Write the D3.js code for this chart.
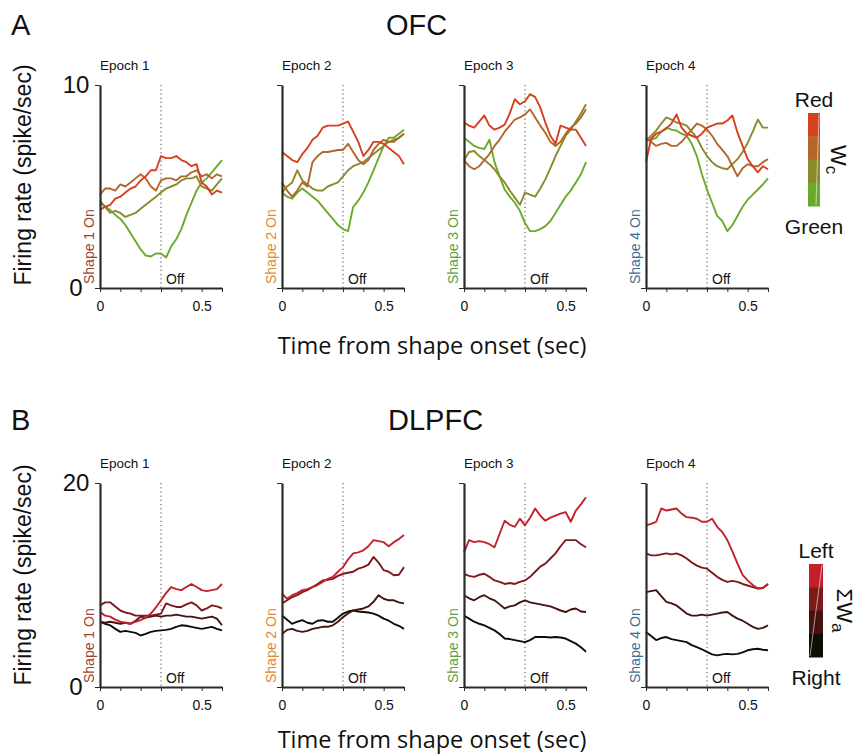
<!DOCTYPE html>
<html lang="en">
<head>
<meta charset="UTF-8">
<title>OFC / DLPFC firing rates</title>
<style>
  body { margin: 0; background: #fff; }
  text { font-family: "Liberation Sans", Arial, sans-serif; fill: #111; }
  .trace { fill: none; stroke-width: 1.9px; stroke-linejoin: round; }
  .axis path, .axis line { stroke: #2b2b2b; }
  .axis path { stroke-width: 2.2px; }
  .axis line { stroke-width: 1px; }
  .axis text { font-size: 14px; fill: #111; font-family: "Liberation Sans", Arial, sans-serif; }
  .off-line { stroke: #444; stroke-width: 1px; stroke-dasharray: 1.2 3; }
  .big-title { font-family: "Open Sans", sans-serif; font-size: 23.5px; }
</style>
</head>
<body>
<div id="chart"></div>
<script src="https://d3js.org/d3.v7.min.js"></script>
<script>
// time from shape onset (sec), shared by every trace
const TIME = [0, 0.025, 0.05, 0.075, 0.1, 0.125, 0.15, 0.175, 0.2, 0.225, 0.25, 0.275, 0.3,
              0.325, 0.35, 0.375, 0.4, 0.425, 0.45, 0.475, 0.5, 0.525, 0.55, 0.575, 0.6];
const X_TICKS = [0, 0.1, 0.2, 0.3, 0.4, 0.5, 0.6];
const OFF_TIME = 0.3;
const EPOCHS = ["Epoch 1", "Epoch 2", "Epoch 3", "Epoch 4"];
const SHAPE_LABELS = ["Shape 1 On", "Shape 2 On", "Shape 3 On", "Shape 4 On"];
const SHAPE_COLORS = ["#a0422e", "#e08a2f", "#5fa03a", "#3d6d94"];

const OFC_MAX = 10;
const DLPFC_MAX = 20;
// Wc: red -> green
const OFC_COLORS = ["#d6401e", "#b4662a", "#8a892c", "#6aaa2a"];
// sum Wa: left -> right
const DLPFC_COLORS = ["#c4202a", "#7c1a1a", "#461210", "#0e0e06"];
const OFC_KEY = ["Red", "Green"];
const DLPFC_KEY = ["Left", "Right"];

// OFC, rows = red, brown, olive, green
const ofcEpoch1 = [
  [3.85, 4.0, 4.1, 4.4, 4.5, 4.7, 4.9, 5.0, 5.3, 5.5, 5.8, 5.8, 6.5, 6.4, 6.4, 6.5, 6.3, 6.2, 6.0, 6.1, 5.2, 5.0, 4.6, 4.8, 4.7],
  [4.6, 4.9, 4.9, 4.8, 5.1, 5.0, 5.2, 5.4, 5.6, 5.4, 5.0, 4.8, 5.3, 5.4, 5.4, 5.3, 5.5, 5.5, 5.7, 5.8, 5.5, 5.6, 5.4, 5.6, 5.5],
  [4.3, 4.0, 3.7, 3.8, 3.7, 3.5, 3.6, 3.7, 3.9, 4.1, 4.3, 4.5, 4.7, 4.9, 5.0, 5.1, 5.3, 5.4, 5.4, 5.5, 5.0, 4.9, 4.8, 5.1, 5.4],
  [4.2, 4.0, 3.85, 3.6, 3.4, 3.1, 2.7, 2.3, 1.9, 1.6, 1.55, 1.7, 1.7, 1.5, 2.05, 2.4, 2.9, 3.6, 4.2, 4.8, 5.2, 5.4, 5.7, 6.0, 6.3]
];
const ofcEpoch2 = [
  [6.7, 6.5, 6.3, 6.2, 6.6, 6.9, 7.3, 7.5, 7.9, 8.0, 8.0, 8.0, 8.1, 8.2, 7.7, 7.2, 6.5, 6.8, 7.2, 7.2, 7.1, 6.9, 6.7, 6.5, 6.1],
  [5.2, 4.8, 4.5, 4.8, 5.2, 5.0, 6.2, 6.5, 6.7, 6.7, 6.75, 6.8, 6.8, 7.1, 6.7, 6.3, 6.1, 6.3, 6.8, 7.1, 7.3, 7.2, 7.2, 7.4, 7.6],
  [4.7, 5.0, 5.2, 5.8, 5.3, 5.1, 4.9, 4.8, 4.8, 5.0, 5.1, 5.2, 5.5, 5.8, 6.0, 6.1, 6.2, 6.4, 6.6, 6.8, 7.0, 7.2, 7.3, 7.4, 7.6],
  [4.7, 4.5, 4.4, 4.7, 4.9, 4.7, 4.5, 4.3, 4.0, 3.7, 3.4, 3.1, 2.9, 2.8, 4.0, 4.3, 4.7, 5.2, 5.8, 6.4, 7.0, 7.4, 7.4, 7.6, 7.8]
];
const ofcEpoch3 = [
  [8.15, 8.0, 7.9, 8.2, 8.5, 8.0, 7.8, 7.9, 8.05, 8.6, 9.3, 9.05, 9.2, 9.55, 9.4, 8.9, 8.15, 7.5, 7.1, 8.0, 7.9, 7.8, 7.8, 7.4, 7.0],
  [6.3, 6.0, 5.85, 6.0, 6.3, 6.6, 7.0, 7.3, 7.7, 8.0, 8.3, 8.4, 8.55, 8.8, 8.4, 8.0, 7.65, 7.2, 7.0, 7.2, 7.6, 7.9, 8.1, 8.4, 8.8],
  [6.3, 6.7, 6.75, 6.5, 6.3, 6.1, 5.85, 5.5, 5.2, 4.8, 4.45, 4.1, 4.7, 4.6, 4.5, 4.9, 5.35, 5.9, 6.5, 7.0, 7.5, 7.8, 8.2, 8.6, 9.05],
  [7.4, 7.2, 7.0, 6.9, 6.85, 7.3, 6.2, 5.5, 4.85, 4.5, 4.2, 3.8, 3.2, 2.8, 2.8, 2.9, 3.05, 3.3, 3.7, 4.1, 4.5, 4.8, 5.2, 5.6, 6.2]
];
const ofcEpoch4 = [
  [6.2, 7.35, 7.6, 7.7, 7.85, 8.1, 8.55, 7.9, 7.6, 7.5, 7.4, 7.6, 7.9, 8.0, 8.1, 8.1, 8.25, 8.5, 7.65, 7.0, 6.35, 6.0, 5.7, 6.0, 5.85],
  [7.4, 7.2, 7.0, 7.1, 7.15, 7.0, 7.0, 7.2, 7.5, 7.8, 8.1, 8.0, 7.8, 7.5, 7.1, 6.8, 6.5, 6.0, 5.5, 5.9, 6.1, 6.0, 6.0, 6.2, 6.35],
  [7.25, 7.5, 7.75, 8.1, 8.4, 8.3, 8.15, 8.1, 8.0, 7.7, 7.4, 6.9, 6.5, 6.2, 6.0, 5.9, 5.85, 6.1, 6.35, 6.7, 7.15, 7.7, 8.3, 7.9, 7.9],
  [7.25, 7.3, 7.4, 7.7, 7.9, 7.8, 7.75, 7.6, 7.5, 7.1, 6.5, 5.6, 4.85, 4.2, 3.55, 3.3, 2.8, 3.1, 3.55, 4.0, 4.35, 4.6, 4.85, 5.1, 5.4]
];

// DLPFC, rows = left ... right
const dlpfcEpoch1 = [
  [7.35, 7.0, 6.9, 6.6, 6.4, 6.3, 6.2, 6.4, 6.55, 6.8, 7.2, 7.8, 8.5, 9.2, 9.8, 9.6, 9.5, 9.8, 10.1, 9.8, 9.5, 9.4, 9.5, 9.6, 10.1],
  [8.0, 8.3, 8.3, 7.9, 7.5, 7.3, 7.2, 7.0, 7.0, 7.0, 7.0, 7.1, 7.2, 8.2, 8.0, 7.85, 7.85, 8.1, 8.3, 8.0, 7.5, 7.7, 8.0, 7.9, 7.7],
  [6.4, 6.3, 6.4, 6.3, 6.2, 6.3, 6.2, 6.5, 6.9, 6.8, 6.9, 7.0, 6.9, 7.0, 7.0, 7.1, 7.0, 6.9, 6.9, 6.8, 6.7, 6.8, 6.9, 6.7, 6.05],
  [6.4, 6.2, 6.05, 5.7, 5.4, 5.5, 5.4, 5.3, 5.05, 5.2, 5.4, 5.5, 5.55, 5.6, 5.7, 5.9, 6.05, 6.0, 5.9, 5.8, 5.7, 5.8, 5.9, 5.7, 5.55]
];
const dlpfcEpoch2 = [
  [9.15, 8.65, 9.0, 9.2, 9.5, 9.6, 9.8, 10.0, 10.3, 10.6, 10.8, 11.3, 11.75, 12.5, 13.1, 13.2, 13.4, 13.8, 14.4, 14.3, 14.2, 13.8, 14.2, 14.5, 14.9],
  [8.2, 8.5, 8.8, 9.0, 9.3, 9.5, 9.8, 10.1, 10.45, 10.5, 10.6, 10.9, 11.1, 11.2, 11.3, 11.6, 11.75, 12.0, 12.75, 12.2, 11.45, 11.3, 10.95, 11.0, 11.75],
  [5.2, 5.6, 5.7, 5.5, 5.4, 5.5, 5.7, 5.8, 5.9, 5.9, 6.05, 6.4, 6.85, 7.2, 7.5, 7.6, 7.7, 7.9, 8.35, 9.0, 8.65, 8.5, 8.5, 8.3, 8.2],
  [7.0, 6.6, 6.2, 6.4, 6.55, 6.3, 6.2, 6.5, 6.55, 6.4, 6.4, 6.8, 7.2, 7.4, 7.5, 7.4, 7.35, 7.3, 7.2, 7.0, 6.7, 6.5, 6.2, 6.0, 5.7]
];
const dlpfcEpoch3 = [
  [13.2, 14.4, 14.2, 14.3, 14.2, 14.0, 13.7, 15.0, 16.3, 15.9, 15.7, 16.5, 15.85, 16.6, 17.5, 16.8, 16.3, 16.6, 16.8, 17.0, 17.15, 16.2, 17.3, 17.9, 18.6],
  [11.1, 10.9, 10.8, 11.0, 11.1, 10.8, 10.45, 10.3, 10.1, 10.2, 10.1, 10.3, 10.45, 10.8, 11.3, 11.8, 12.1, 12.6, 13.1, 13.8, 14.4, 14.4, 14.4, 14.0, 13.7],
  [9.0, 8.7, 8.5, 8.8, 9.0, 8.7, 8.5, 8.1, 7.7, 7.9, 8.0, 8.3, 8.5, 8.3, 8.2, 8.1, 8.0, 7.9, 7.7, 7.5, 7.35, 7.6, 7.7, 7.4, 7.35],
  [7.0, 6.7, 6.4, 6.2, 6.05, 5.8, 5.55, 5.2, 4.75, 4.7, 4.6, 4.5, 4.4, 4.6, 4.9, 4.9, 4.9, 4.85, 4.9, 4.85, 4.75, 4.5, 4.25, 3.9, 3.45]
];
const dlpfcEpoch4 = [
  [15.85, 16.0, 16.2, 17.5, 17.3, 17.4, 17.5, 17.0, 16.65, 16.6, 16.5, 16.2, 16.2, 16.5, 15.7, 15.2, 14.4, 13.3, 12.1, 11.0, 10.45, 10.0, 9.65, 9.7, 10.1],
  [13.1, 12.9, 12.9, 13.0, 13.1, 13.0, 13.1, 12.9, 12.6, 12.2, 11.9, 11.7, 11.6, 11.2, 10.8, 10.5, 10.3, 10.4, 10.3, 10.1, 9.95, 9.8, 9.65, 9.7, 10.1],
  [9.3, 9.4, 9.5, 8.9, 8.35, 8.2, 8.0, 7.6, 7.2, 7.0, 7.0, 7.1, 7.0, 7.1, 7.2, 7.3, 7.35, 7.0, 6.7, 6.5, 6.2, 5.9, 5.7, 5.8, 6.05],
  [5.4, 5.0, 4.6, 4.8, 4.9, 4.7, 4.6, 4.5, 4.4, 4.1, 3.9, 3.7, 3.45, 3.2, 3.1, 3.2, 3.25, 3.2, 3.25, 3.4, 3.6, 3.7, 3.75, 3.65, 3.6]
];

document.addEventListener("DOMContentLoaded", function() {
  const svg = d3.select("#chart").append("svg")
    .attr("width", 860)
    .attr("height", 756);

  const colLeft = [100, 282, 464, 646];
  const plotW = 122;

  function drawPanel(p) {
    // panel letter + area name
    svg.append("text").attr("x", 11).attr("y", p.titleY)
      .style("font-size", "29px").text(p.letter);
    svg.append("text").attr("x", p.nameX).attr("y", p.titleY)
      .style("font-size", "29px").text(p.name);

    // y title
    svg.append("text")
      .attr("transform", `translate(31,${p.yTitleY}) rotate(-90)`)
      .attr("text-anchor", "middle")
      .style("font-size", "23px")
      .text("Firing rate (spike/sec)");

    // x title
    svg.append("text").attr("class", "big-title")
      .attr("x", 432).attr("y", p.xTitleY)
      .attr("text-anchor", "middle")
      .text("Time from shape onset (sec)");

    EPOCHS.forEach((ep, i) => {
      const left = colLeft[i];
      const x = d3.scaleLinear().domain([0, 0.6]).range([left, left + plotW]);
      const y = d3.scaleLinear().domain([0, p.yMax]).range([p.bottom, p.top]);
      const g = svg.append("g");

      g.append("text").attr("x", left).attr("y", p.top - 15)
        .style("font-size", "13.5px").text(ep);

      g.append("line").attr("class", "off-line")
        .attr("x1", x(OFF_TIME)).attr("x2", x(OFF_TIME))
        .attr("y1", y(p.yMax)).attr("y2", y(0));

      g.append("text").attr("x", x(OFF_TIME) + 5).attr("y", p.bottom - 4)
        .style("font-size", "14px").text("Off");

      g.append("text")
        .attr("transform", `translate(${left - 6},${p.bottom - 4}) rotate(-90)`)
        .style("font-size", "14px")
        .style("fill", SHAPE_COLORS[i])
        .text(SHAPE_LABELS[i]);

      const line = d3.line()
        .x((d, j) => x(TIME[j]))
        .y(d => y(d));

      // draw rightmost colour first so the red trace sits on top
      p.series[i].slice().reverse().forEach((vals, k) => {
        g.append("path")
          .datum(vals)
          .attr("class", "trace")
          .attr("stroke", p.colors[p.colors.length - 1 - k])
          .attr("d", line);
      });

      const xAxis = d3.axisBottom(x)
        .tickValues(X_TICKS)
        .tickSize(4)
        .tickSizeOuter(0)
        .tickPadding(9)
        .tickFormat(d => d === 0 ? "0" : d === 0.5 ? "0.5" : "");
      g.append("g").attr("class", "axis")
        .attr("transform", `translate(0,${p.bottom})`)
        .call(xAxis);

      const yAxis = d3.axisLeft(y)
        .tickValues([0, p.yMax])
        .tickSize(5)
        .tickSizeOuter(0)
        .tickFormat(i === 0 ? d3.format("d") : () => "");
      const ya = g.append("g").attr("class", "axis")
        .attr("transform", `translate(${left},0)`)
        .call(yAxis);
      ya.selectAll("text")
        .attr("text-anchor", "middle")
        .attr("x", -24)
        .style("font-size", "24px");
    });

    // colour key
    const k = p.key;
    const seg = k.h / p.colors.length;
    const kg = svg.append("g");
    kg.selectAll("rect").data(p.colors).join("rect")
      .attr("x", k.x).attr("y", (d, j) => k.y + j * seg)
      .attr("width", k.w).attr("height", seg + 0.5)
      .attr("fill", d => d);
    kg.append("line")
      .attr("x1", k.x + k.w - 1).attr("y1", k.y + 1)
      .attr("x2", k.x + k.w - 1 - k.slant).attr("y2", k.y + k.h - 1)
      .attr("stroke", "#fff").attr("stroke-width", 0.7).attr("opacity", 0.8);
    kg.append("text").attr("x", k.x + k.w / 2).attr("y", k.y - 6)
      .attr("text-anchor", "middle").style("font-size", "21px").text(p.keyLabels[0]);
    kg.append("text").attr("x", k.x + k.w / 2).attr("y", k.y + k.h + 28)
      .attr("text-anchor", "middle").style("font-size", "21px").text(p.keyLabels[1]);
    const sym = kg.append("text")
      .attr("transform", `translate(${k.symX},${k.y + k.h / 2}) rotate(90)`)
      .attr("text-anchor", "middle")
      .style("font-size", "22px");
    sym.append("tspan").text(p.symbol);
    sym.append("tspan").attr("dy", 5).style("font-size", "17px").text(p.symbolSub);
  }

  drawPanel({
    letter: "A", name: "OFC", nameX: 386, titleY: 35,
    top: 85, bottom: 288, yMax: OFC_MAX,
    yTitleY: 175, xTitleY: 354,
    series: [ofcEpoch1, ofcEpoch2, ofcEpoch3, ofcEpoch4],
    colors: OFC_COLORS,
    keyLabels: OFC_KEY,
    key: { x: 808, y: 113, w: 12, h: 93, slant: 3, symX: 831 },
    symbol: "W", symbolSub: "c"
  });

  drawPanel({
    letter: "B", name: "DLPFC", nameX: 388, titleY: 430,
    top: 483, bottom: 687, yMax: DLPFC_MAX,
    yTitleY: 575, xTitleY: 748,
    series: [dlpfcEpoch1, dlpfcEpoch2, dlpfcEpoch3, dlpfcEpoch4],
    colors: DLPFC_COLORS,
    keyLabels: DLPFC_KEY,
    key: { x: 809, y: 564, w: 14, h: 93, slant: 12, symX: 837 },
    symbol: "ΣW", symbolSub: "a"
  });
});
</script>
</body>
</html>
